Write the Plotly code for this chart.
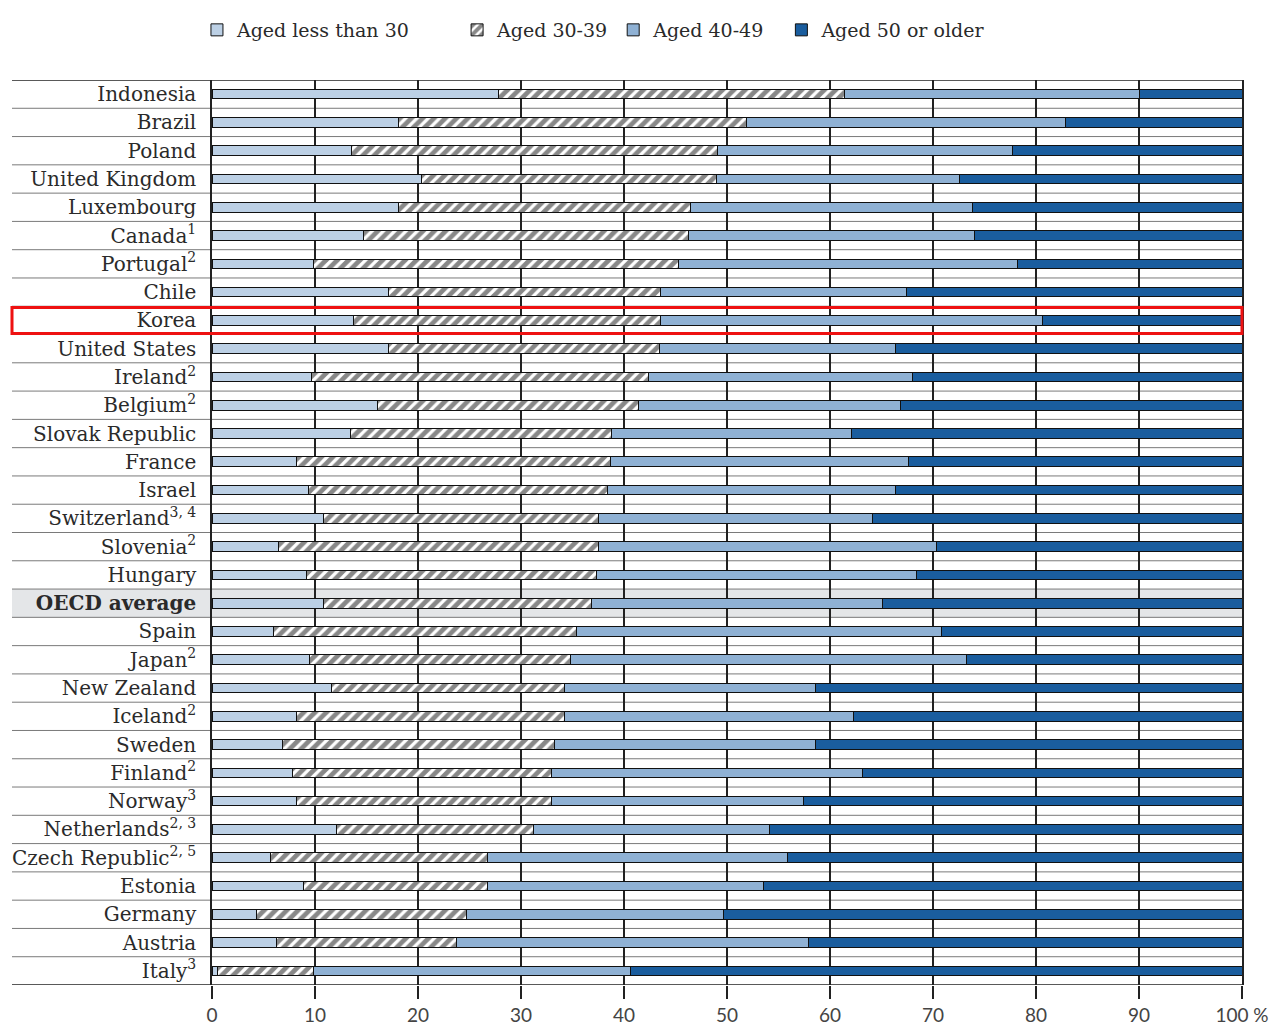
import plotly.graph_objects as go

countries = [
    "Indonesia", "Brazil", "Poland", "United Kingdom", "Luxembourg", "Canada<sup>1</sup>",
    "Portugal<sup>2</sup>", "Chile", "Korea", "United States", "Ireland<sup>2</sup>",
    "Belgium<sup>2</sup>", "Slovak Republic", "France", "Israel", "Switzerland<sup>3, 4</sup>",
    "Slovenia<sup>2</sup>", "Hungary", "<b>OECD average</b>", "Spain", "Japan<sup>2</sup>",
    "New Zealand", "Iceland<sup>2</sup>", "Sweden", "Finland<sup>2</sup>", "Norway<sup>3</sup>",
    "Netherlands<sup>2, 3</sup>", "Czech Republic<sup>2, 5</sup>", "Estonia", "Germany",
    "Austria", "Italy<sup>3</sup>",
]

under30 = [27.8, 18.1, 13.5, 20.3, 18.1, 14.7, 9.9, 17.1, 13.7, 17.1, 9.7, 16.1, 13.4, 8.2, 9.4, 10.8,
           6.5, 9.2, 10.8, 6.0, 9.5, 11.6, 8.2, 6.8, 7.8, 8.2, 12.1, 5.7, 8.9, 4.3, 6.3, 0.5]
aged30_39 = [33.6, 33.8, 35.6, 28.7, 28.4, 31.6, 35.4, 26.4, 29.8, 26.3, 32.7, 25.3, 25.4, 30.5, 29.0, 26.7,
             31.0, 28.1, 26.0, 29.4, 25.3, 22.6, 26.0, 26.5, 25.2, 24.8, 19.1, 21.0, 17.8, 20.4, 17.4, 9.4]
aged40_49 = [28.6, 31.0, 28.6, 23.6, 27.3, 27.7, 32.9, 23.9, 37.1, 23.0, 25.6, 25.4, 23.3, 28.9, 28.0, 26.6,
             32.8, 31.1, 28.3, 35.4, 38.5, 24.4, 28.1, 25.3, 30.2, 24.4, 22.9, 29.2, 26.8, 25.0, 34.2, 30.7]
aged50plus = [10.0, 17.1, 22.3, 27.4, 26.2, 26.0, 21.8, 32.6, 19.4, 33.6, 32.0, 33.2, 37.9, 32.4, 33.6, 35.9,
              29.7, 31.6, 34.9, 29.2, 26.7, 41.4, 37.7, 41.4, 36.8, 42.6, 45.9, 44.1, 46.5, 50.3, 42.1, 59.4]

series_names = ["Aged less than 30", "Aged 30-39", "Aged 40-49", "Aged 50 or older"]
tick_vals = [0, 10, 20, 30, 40, 50, 60, 70, 80, 90, 100]
tick_text = ["0", "10", "20", "30", "40", "50", "60", "70", "80", "90", "100 %"]

highlight = "Korea"
average = "<b>OECD average</b>"

colors = ["#bcd0e5", "#ffffff", "#8fb1d4", "#1a5d9e"]
series = [under30, aged30_39, aged40_49, aged50plus]
legend_pad = [7, 0, 2, 0]  # extra spacing (non-breaking spaces) after each legend entry

SERIF = "DejaVu Serif"

fig = go.Figure()
for name, vals, col, pad in zip(series_names, series, colors, legend_pad):
    marker = dict(color=col, line=dict(color="#111111", width=1))
    if name == "Aged 30-39":
        marker["pattern"] = dict(shape="/", fgcolor="#111111", bgcolor="#ffffff", size=8, solidity=0.6)
    fig.add_trace(go.Bar(
        y=countries, x=vals, name=name + "\u00a0" * pad, orientation="h", width=0.34, marker=marker,
        hovertemplate=name + ": %{x}%<extra>%{y}</extra>",
    ))

n = len(countries)
W, H = 1279, 1017
ML, MR, MT, MB = 204, 45, 72, 40
plot_w = W - ML - MR
plot_h = H - MT - MB
left_paper = (4 - ML) / plot_w
shapes = []
# OECD average band
ia = countries.index(average)
shapes.append(dict(type="rect", xref="paper", yref="y", x0=left_paper, x1=1, y0=ia - 0.5, y1=ia + 0.5,
                   fillcolor="#e4e6e8", line=dict(width=0), layer="below"))
# row separator lines
for i in range(1, n):
    shapes.append(dict(type="line", xref="paper", yref="y", x0=left_paper, x1=1, y0=i - 0.5, y1=i - 0.5,
                       line=dict(color="#7a7a7a", width=1), layer="below"))
# top and bottom lines
for yv in (-0.5, n - 0.5):
    shapes.append(dict(type="line", xref="paper", yref="y", x0=left_paper, x1=1, y0=yv, y1=yv,
                       line=dict(color="#222222", width=1.5), layer="above"))
# Korea highlight box
ik = countries.index(highlight)
shapes.append(dict(type="rect", xref="paper", yref="y", x0=left_paper, x1=1.0, y0=ik - 0.46, y1=ik + 0.46,
                   line=dict(color="#ee1111", width=3), fillcolor="rgba(0,0,0,0)", layer="above"))

fig.update_layout(
    barmode="stack",
    width=W, height=H,
    margin=dict(l=ML, r=MR, t=MT, b=MB, autoexpand=False),
    paper_bgcolor="white", plot_bgcolor="white",
    font=dict(family=SERIF, size=20, color="#2a2a2a"),
    shapes=shapes,
    legend=dict(orientation="h", x=-0.0146, y=1 + 50 / plot_h,
                yanchor="middle", xanchor="left",
                font=dict(family=SERIF, size=19, color="#2a2a2a"),
                traceorder="normal", itemwidth=30, bgcolor="rgba(0,0,0,0)"),
    showlegend=True,
)
fig.update_xaxes(range=[0, 100], tickvals=tick_vals, ticktext=tick_text, showgrid=True,
                 gridcolor="#222222", gridwidth=1.5, zeroline=False, showline=False,
                 ticks="outside", ticklen=13, tickwidth=1.5, tickcolor="#222222",
                 tickfont=dict(family="Lato", size=19, color="#444444"))
fig.update_yaxes(type="category", categoryorder="array", categoryarray=countries,
                 range=[n - 0.5, -0.5], showgrid=False, showline=True, mirror=True,
                 linecolor="#222222", linewidth=1.5, ticks="", ticklabelstandoff=10,
                 tickfont=dict(family=SERIF, size=20, color="#2a2a2a"))

fig.write_html("out.html")
